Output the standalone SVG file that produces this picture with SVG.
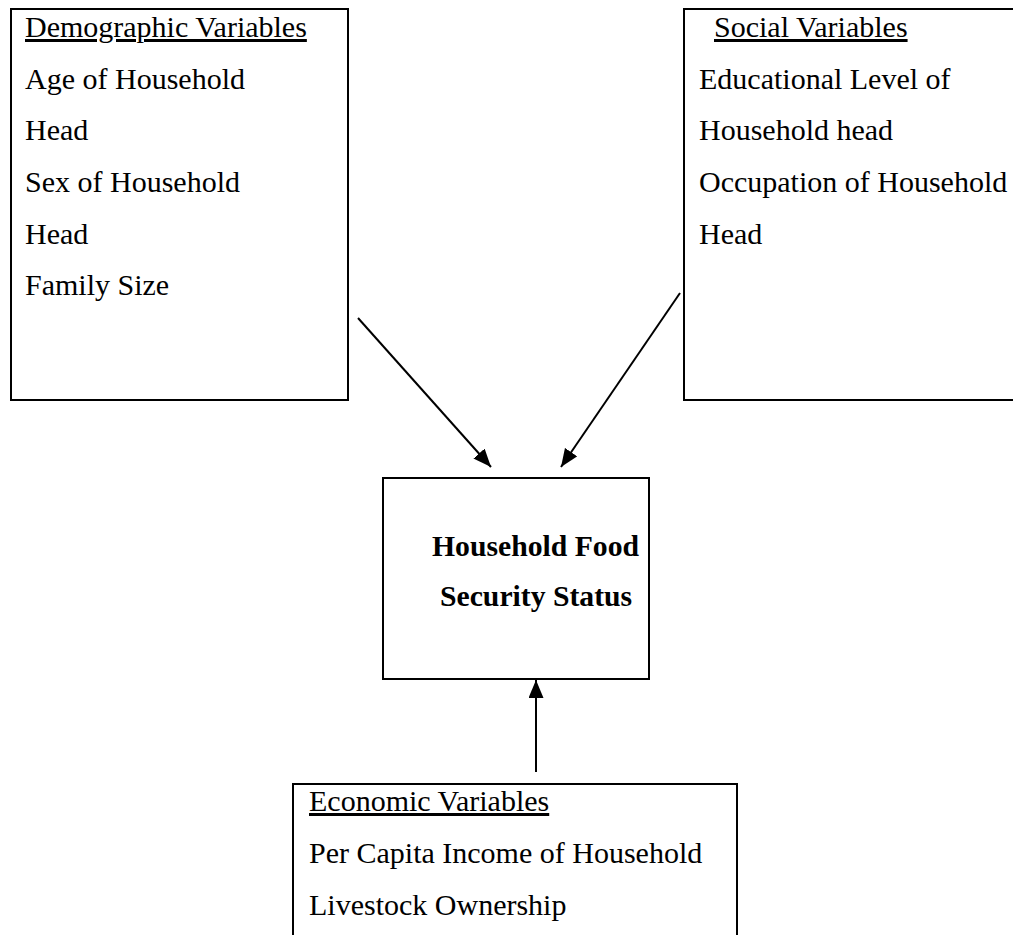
<svg xmlns="http://www.w3.org/2000/svg" width="1013" height="935" viewBox="0 0 1013 935">
  <style>
    .box { fill: #ffffff; stroke: #000000; stroke-width: 2; }
    .t { font-family: "Liberation Serif", "Times New Roman", serif; font-size: 30px; fill: #000000; }
    .u { text-decoration: underline; }
    .b { font-weight: bold; font-size: 29.7px; }
    .conn { stroke: #000000; stroke-width: 2; fill: none; marker-end: url(#arrow); }
  </style>
  <defs>
    <marker id="arrow" markerUnits="userSpaceOnUse" markerWidth="20" markerHeight="16" refX="18" refY="7.5" orient="auto">
      <path d="M0,0 L18,7.5 L0,15 z" fill="#000000"/>
    </marker>
  </defs>
  <rect width="1013" height="935" fill="#ffffff"/>

  <g id="demographic">
    <rect class="box" x="11" y="9" width="337" height="391"/>
    <text class="t u" x="25" y="37">Demographic Variables</text>
    <text class="t" x="25" y="89">Age of Household</text>
    <text class="t" x="25" y="140">Head</text>
    <text class="t" x="25" y="192">Sex of Household</text>
    <text class="t" x="25" y="244">Head</text>
    <text class="t" x="25" y="295">Family Size</text>
  </g>

  <g id="social">
    <rect class="box" x="684" y="9" width="340" height="391"/>
    <text class="t u" x="714" y="37">Social Variables</text>
    <text class="t" x="699" y="89">Educational Level of</text>
    <text class="t" x="699" y="140">Household head</text>
    <text class="t" x="699" y="192">Occupation of Household</text>
    <text class="t" x="699" y="244">Head</text>
  </g>

  <g id="foodsecurity">
    <rect class="box" x="383" y="478" width="266" height="201"/>
    <text class="t b" x="432" y="556">Household Food</text>
    <text class="t b" x="440" y="606">Security Status</text>
  </g>

  <g id="economic">
    <rect class="box" x="293" y="784" width="444" height="170"/>
    <text class="t u" x="309" y="811">Economic Variables</text>
    <text class="t" x="309" y="863">Per Capita Income of Household</text>
    <text class="t" x="309" y="915">Livestock Ownership</text>
  </g>

  <g id="connectors">
    <line class="conn" x1="358" y1="318" x2="491" y2="467"/>
    <line class="conn" x1="680" y1="293" x2="561" y2="467"/>
    <line class="conn" x1="536" y1="772" x2="536" y2="680"/>
  </g>
</svg>
